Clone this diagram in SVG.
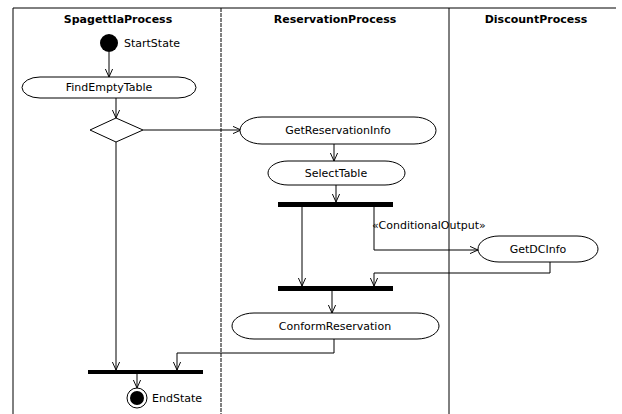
<svg xmlns="http://www.w3.org/2000/svg" width="622" height="414" viewBox="0 0 622 414">
<style>
.lane{stroke:#000;stroke-width:1;fill:none}
.hdr{font-family:"DejaVu Sans",Verdana,sans-serif;font-size:11px;font-weight:bold;text-anchor:middle;fill:#000}
.lbl{font-family:"DejaVu Sans",Verdana,sans-serif;font-size:11px;fill:#000}
.ctr{text-anchor:middle}
.act{fill:#fff;stroke:#000;stroke-width:1}
.bar{fill:#000}
.edge{fill:none;stroke:#000;stroke-width:1;marker-end:url(#arr)}
</style>
<defs>
<marker id="arr" viewBox="0 0 10 10" refX="10" refY="5" markerWidth="8" markerHeight="8" markerUnits="userSpaceOnUse" orient="auto">
<polyline points="0,0.5 10,5 0,9.5" fill="none" stroke="#000" stroke-width="1.2"/>
</marker>
</defs>
<rect width="622" height="414" fill="#fff"/>
<g id="frame">
<line class="lane" x1="13" y1="8" x2="616" y2="8"/>
<line class="lane" x1="13" y1="8" x2="13" y2="414"/>
<line class="lane" x1="221" y1="8" x2="221" y2="414" stroke-dasharray="4,1"/>
<line class="lane" x1="449" y1="8" x2="449" y2="414"/>
<text class="hdr" x="118" y="23">SpagettlaProcess</text>
<text class="hdr" x="335" y="23">ReservationProcess</text>
<text class="hdr" x="536" y="23">DiscountProcess</text>
</g>
<g id="connectors">
<line class="edge" x1="109" y1="52" x2="109" y2="77"/>
<line class="edge" x1="116" y1="98" x2="116" y2="118"/>
<line class="edge" x1="143" y1="130" x2="241" y2="130"/>
<line class="edge" x1="334" y1="144" x2="334" y2="161"/>
<line class="edge" x1="336" y1="185" x2="336" y2="202"/>
<line class="edge" x1="302" y1="207" x2="302" y2="286"/>
<polyline class="edge" points="374,207 374,250 478,250"/>
<polyline class="edge" points="550,262 550,273 374,273 374,286"/>
<line class="edge" x1="332" y1="291" x2="332" y2="313"/>
<polyline class="edge" points="334,339 334,353 177,353 177,370"/>
<line class="edge" x1="116" y1="142" x2="116" y2="370"/>
<line class="edge" x1="137" y1="374" x2="137" y2="388"/>
<text class="lbl" x="372" y="229" font-size="10.5">«ConditionalOutput»</text>
</g>
<g id="StartState">
<circle cx="109" cy="43" r="9" fill="#000"/>
<text class="lbl" x="124" y="47">StartState</text>
</g>
<g id="FindEmptyTable">
<rect class="act" x="22" y="77" width="174" height="21" rx="18" ry="10.5"/>
<text class="lbl ctr" x="109" y="91">FindEmptyTable</text>
</g>
<g id="Decision">
<polygon class="act" points="116,118 143,130 116,142 90,130"/>
</g>
<g id="GetReservationInfo">
<rect class="act" x="240" y="117" width="196" height="27" rx="22" ry="13.5"/>
<text class="lbl ctr" x="338" y="134">GetReservationInfo</text>
</g>
<g id="SelectTable">
<rect class="act" x="268" y="161" width="137" height="24" rx="20" ry="12"/>
<text class="lbl ctr" x="336" y="177">SelectTable</text>
</g>
<g id="Fork">
<rect class="bar" x="278" y="202" width="115" height="5"/>
</g>
<g id="GetDCInfo">
<rect class="act" x="478" y="236" width="120" height="26" rx="21" ry="13"/>
<text class="lbl ctr" x="538" y="253">GetDCInfo</text>
</g>
<g id="Join">
<rect class="bar" x="278" y="286" width="115" height="5"/>
</g>
<g id="ConformReservation">
<rect class="act" x="232" y="313" width="207" height="26" rx="22" ry="13"/>
<text class="lbl ctr" x="335" y="330">ConformReservation</text>
</g>
<g id="FinalJoin">
<rect class="bar" x="88" y="370" width="115" height="4"/>
</g>
<g id="EndState">
<circle cx="137" cy="398" r="10" fill="#fff" stroke="#000" stroke-width="1"/>
<circle cx="137" cy="398" r="7" fill="#000"/>
<text class="lbl" x="152" y="402">EndState</text>
</g>
</svg>
